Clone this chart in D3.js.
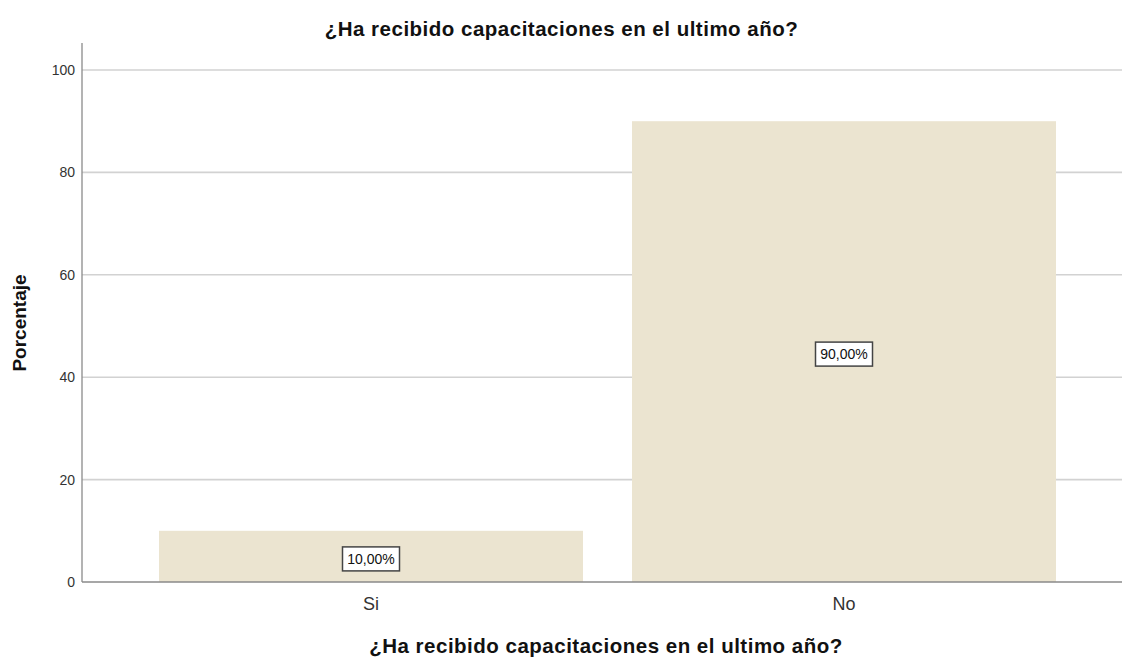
<!DOCTYPE html>
<html>
<head>
<meta charset="utf-8">
<script src="https://cdn.jsdelivr.net/npm/d3@7"></script>
<style>
  body { margin: 0; background: #fff; }
  text { font-family: "Liberation Sans", Arial, sans-serif; }
</style>
</head>
<body>
<div id="chart"></div>
<script>
// Data
const categories = ["Si", "No"];
const percentages = [10, 90];
const valueLabels = ["10,00%", "90,00%"];
const yTicks = [0, 20, 40, 60, 80, 100];
const titleText = "¿Ha recibido capacitaciones en el ultimo año?";

// Chart dimensions
const width = 1123;
const height = 657;
const plotLeft = 82;
const plotRight = 1122;
const plotTop = 43;
const plotBottom = 582;

const svg = d3.create("svg")
    .attr("width", width)
    .attr("height", height);
document.getElementById("chart").append(svg.node());

// Scales
const x = d3.scaleBand()
    .domain(categories)
    .range([134.5, 1080.5])
    .paddingInner(0.1036)
    .paddingOuter(0.0518);

const y = d3.scaleLinear()
    .domain([0, 100])
    .range([plotBottom, 70]);

// Gridlines
svg.append("g")
    .selectAll("line")
    .data(yTicks.filter(d => d > 0))
    .join("line")
    .attr("x1", plotLeft)
    .attr("x2", plotRight)
    .attr("y1", d => y(d))
    .attr("y2", d => y(d))
    .attr("stroke", "#d2d2d2")
    .attr("stroke-width", 1.6);

// Bars
svg.append("g")
    .selectAll("rect")
    .data(categories)
    .join("rect")
    .attr("x", d => x(d))
    .attr("y", (d, i) => y(percentages[i]))
    .attr("width", x.bandwidth())
    .attr("height", (d, i) => y(0) - y(percentages[i]))
    .attr("fill", "#ebe4d0");

// Y axis
const gy = svg.append("g")
    .attr("transform", `translate(${plotLeft},0)`)
    .call(d3.axisLeft(y).tickValues(yTicks).tickSize(0).tickPadding(7));
gy.select(".domain").remove();
gy.selectAll("text")
    .attr("font-size", 14)
    .attr("fill", "#333");
svg.append("line")
    .attr("x1", plotLeft).attr("x2", plotLeft)
    .attr("y1", plotTop).attr("y2", plotBottom)
    .attr("stroke", "#8a8a8a").attr("stroke-width", 1.3);

// X axis
const gx = svg.append("g")
    .attr("transform", `translate(0,${plotBottom})`)
    .call(d3.axisBottom(x).tickSize(0).tickPadding(15));
gx.select(".domain").remove();
gx.selectAll("text")
    .attr("font-size", 18)
    .attr("fill", "#333");
svg.append("line")
    .attr("x1", plotLeft).attr("x2", plotRight)
    .attr("y1", plotBottom).attr("y2", plotBottom)
    .attr("stroke", "#8a8a8a").attr("stroke-width", 1.3);

// Value labels in boxes
const labels = svg.append("g")
    .selectAll("g")
    .data(categories)
    .join("g")
    .attr("transform", (d, i) =>
        `translate(${x(d) + x.bandwidth() / 2},${(y(0) + y(percentages[i])) / 2 + 2.5})`);
labels.append("rect")
    .attr("x", -28.5)
    .attr("y", -12)
    .attr("width", 57)
    .attr("height", 24)
    .attr("fill", "#fff")
    .attr("stroke", "#444")
    .attr("stroke-width", 1.5);
labels.append("text")
    .attr("text-anchor", "middle")
    .attr("dy", "0.36em")
    .attr("font-size", 14)
    .attr("fill", "#111")
    .text((d, i) => valueLabels[i]);

// Title
svg.append("text")
    .attr("x", width / 2)
    .attr("y", 36)
    .attr("text-anchor", "middle")
    .attr("font-size", 20.5)
    .attr("letter-spacing", 0.5)
    .attr("font-weight", "bold")
    .attr("fill", "#111")
    .text(titleText);

// X axis title
svg.append("text")
    .attr("x", (plotLeft + plotRight) / 2 + 4)
    .attr("y", 653)
    .attr("text-anchor", "middle")
    .attr("font-size", 20.5)
    .attr("letter-spacing", 0.5)
    .attr("font-weight", "bold")
    .attr("fill", "#111")
    .text(titleText);

// Y axis title
svg.append("text")
    .attr("transform", "rotate(-90)")
    .attr("x", -323)
    .attr("y", 26)
    .attr("text-anchor", "middle")
    .attr("font-size", 19)
    .attr("font-weight", "bold")
    .attr("fill", "#111")
    .text("Porcentaje");
</script>
</body>
</html>
